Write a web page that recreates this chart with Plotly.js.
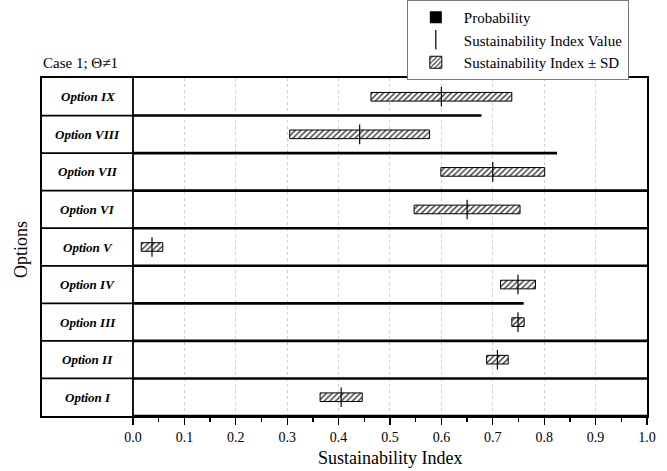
<!DOCTYPE html>
<html>
<head>
<meta charset="utf-8">
<script src="https://cdn.plot.ly/plotly-3.0.1.min.js"></script>
<style>html,body{margin:0;padding:0;background:#fff;}</style>
</head>
<body>
<div id="chart" style="width:667px;height:471px;"></div>
<script>
// Options, bottom (I) to top (IX)
const options = ["Option I","Option II","Option III","Option IV","Option V","Option VI","Option VII","Option VIII","Option IX"];
// Sustainability index value (tick mark)
const siValue = [0.405, 0.709, 0.749, 0.749, 0.037, 0.650, 0.700, 0.441, 0.600];
// Standard deviation (half-width of hatched bar)
const siSD = [0.041, 0.021, 0.012, 0.034, 0.021, 0.103, 0.101, 0.136, 0.137];
// Probability (black bar drawn at the lower edge of each option row)
const probability = [1.0, 1.0, 1.0, 0.76, 1.0, 1.0, 1.0, 0.825, 0.678];
const xTicks = [0,0.1,0.2,0.3,0.4,0.5,0.6,0.7,0.8,0.9,1.0];
const xTickText = ["0.0","0.1","0.2","0.3","0.4","0.5","0.6","0.7","0.8","0.9","1.0"];
const xMinorTicks = [0.05,0.15,0.25,0.35,0.45,0.55,0.65,0.75,0.85,0.95];

const serif = "Liberation Serif";
const rowCenter = options.map((_, i) => i + 0.5);
const rowEdge = options.map((_, i) => i);

const probTrace = {
  type: "bar", orientation: "h", name: "Probability", legendrank: 1,
  x: probability, y: rowEdge, base: 0, width: 0.07,
  marker: {color: "#000", line: {width: 0}},
  hoverinfo: "skip"
};
const valueTrace = {
  type: "scatter", mode: "markers", name: "Sustainability Index Value", legendrank: 2,
  x: siValue, y: rowCenter,
  marker: {symbol: "line-ns-open", size: 14, color: "#000", line: {color: "#000", width: 1.2}},
  hoverinfo: "skip"
};
const sdTrace = {
  type: "bar", orientation: "h", name: "Sustainability Index \u00b1 SD", legendrank: 3,
  x: siSD.map(s => 2 * s), base: siValue.map((v, i) => v - siSD[i]), y: rowCenter, width: 0.23,
  marker: {color: "#fff", line: {color: "#000", width: 1},
           pattern: {shape: "/", fgcolor: "#333", bgcolor: "#fff", size: 4, solidity: 0.35}},
  hoverinfo: "skip"
};
const data = [probTrace, sdTrace, valueTrace];

const shapes = [];
// label column divider
shapes.push({type: "line", xref: "x", yref: "y", x0: 0, x1: 0, y0: 0, y1: options.length,
             line: {color: "#000", width: 1.8}});
// table lines in label column
for (let i = 1; i < options.length; i++) {
  shapes.push({type: "line", xref: "paper", yref: "y", x0: 0, x1: 0.152, y0: i, y1: i,
               line: {color: "#000", width: 1.8}});
}

const annotations = options.map((o, i) => ({
  xref: "paper", yref: "y", x: 0.076, y: i + 0.5, text: "<b><i>" + o + "</i></b>",
  showarrow: false, xanchor: "center", yanchor: "middle",
  font: {family: serif, size: 13, color: "#000"}
}));
annotations.push({xref: "paper", yref: "paper", x: -0.002, y: 0.849, text: "Case 1; \u0398\u22601",
  showarrow: false, xanchor: "left", yanchor: "middle", font: {family: serif, size: 15, color: "#000"}});
annotations.push({xref: "paper", yref: "paper", x: -0.035, y: 0.401, text: "Options", textangle: -90,
  showarrow: false, xanchor: "center", yanchor: "middle", font: {family: serif, size: 18, color: "#000"}});
annotations.push({xref: "x", yref: "paper", x: 0.5, y: -0.101, text: "Sustainability Index",
  showarrow: false, xanchor: "center", yanchor: "middle", font: {family: serif, size: 18, color: "#000"}});

const layout = {
  width: 667, height: 471,
  margin: {l: 42, r: 20, t: 0, b: 55},
  paper_bgcolor: "#fff", plot_bgcolor: "#fff",
  font: {family: serif, color: "#000"},
  showlegend: true,
  legend: {x: 0.603, y: 1.0, xanchor: "left", yanchor: "top", bgcolor: "#fff",
           bordercolor: "#777", borderwidth: 1, font: {family: serif, size: 15, color: "#000"},
           tracegroupgap: 0, itemwidth: 46, traceorder: "normal"},
  barmode: "overlay",
  xaxis: {range: [-0.177, 1.0], tickvals: xTicks, ticktext: xTickText, ticks: "outside",
          ticklen: 7, tickwidth: 1.3, tickcolor: "#000", showline: true, linecolor: "#000", linewidth: 1.8,
          mirror: true, showgrid: true, gridcolor: "#d0d0d0", griddash: "dot", gridwidth: 1,
          zeroline: false, tickfont: {family: serif, size: 14, color: "#000"},
          minor: {tickvals: xMinorTicks, ticks: "outside", ticklen: 4, tickwidth: 1.3, tickcolor: "#000", showgrid: false},
          fixedrange: true},
  yaxis: {domain: [0, 0.8125], range: [0, options.length], showticklabels: false, ticks: "", showgrid: false, zeroline: false,
          showline: true, linecolor: "#000", linewidth: 1.8, mirror: true, fixedrange: true},
  shapes: shapes,
  annotations: annotations
};

Plotly.newPlot("chart", data, layout, {displayModeBar: false, staticPlot: true});
</script>
</body>
</html>
